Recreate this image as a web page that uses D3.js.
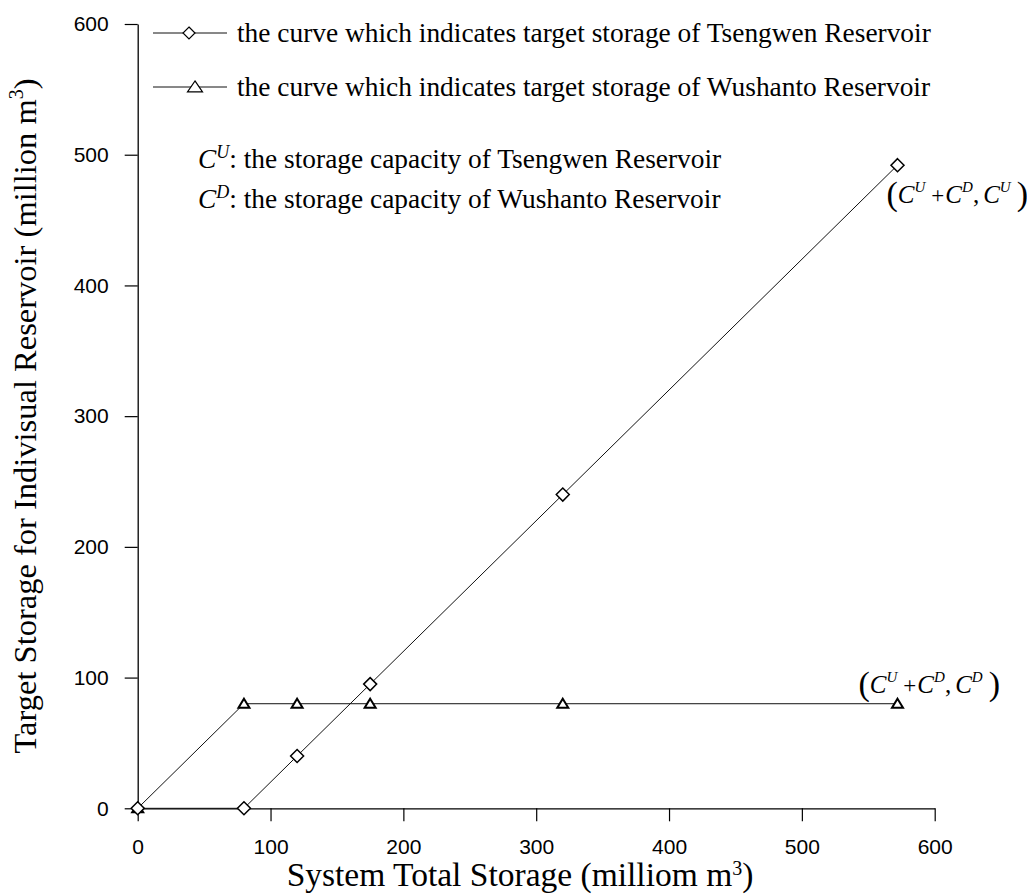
<!DOCTYPE html>
<html>
<head>
<meta charset="utf-8">
<script src="https://cdn.jsdelivr.net/npm/d3@7"></script>
<style>
  html, body { margin: 0; padding: 0; background: #fff; }
  svg { display: block; }
</style>
</head>
<body>
<svg id="chart" width="1027" height="894"></svg>
<script>
// ---- data ----
const totalStorage = [0, 80, 120, 175, 320, 572];
const tsengwenTarget = [0, 0, 40, 95, 240, 492];
const wushantoTarget = [0, 80, 80, 80, 80, 80];
const xTicks = [0, 100, 200, 300, 400, 500, 600];
const yTicks = [0, 100, 200, 300, 400, 500, 600];
const legendLabels = [
  "the curve which indicates target storage of Tsengwen Reservoir",
  "the curve which indicates target storage of Wushanto Reservoir"
];
const noteLabels = [
  { sup: "U", text: ": the storage capacity of Tsengwen Reservoir" },
  { sup: "D", text: ": the storage capacity of Wushanto Reservoir" }
];

const svg = d3.select("#chart");
const x = d3.scaleLinear().domain([0, 600]).range([137.7, 934.7]);
const y = d3.scaleLinear().domain([0, 600]).range([808.3, 24]);

const serif = "'Liberation Serif', 'Times New Roman', serif";
const sans = "'Liberation Sans', Arial, sans-serif";

// ---- axes ----
const xAxis = svg.append("g")
  .attr("transform", `translate(0,${y(0)})`)
  .call(d3.axisBottom(x).tickValues(xTicks).tickSize(13).tickPadding(18).tickSizeOuter(0));
const yAxis = svg.append("g")
  .attr("transform", `translate(${x(0)},0)`)
  .call(d3.axisLeft(y).tickValues(yTicks).tickSize(13).tickPadding(16).tickSizeOuter(0));
[xAxis, yAxis].forEach(g => {
  g.selectAll("text").attr("font-family", sans).attr("font-size", 21).attr("fill", "#000");
  g.selectAll("line").attr("stroke", "#000").attr("stroke-width", 1.2);
  g.select(".domain").attr("stroke", "#000").attr("stroke-width", 1.3);
});

// ---- axis titles ----
const xt = svg.append("text")
  .attr("x", 520).attr("y", 886)
  .attr("text-anchor", "middle")
  .attr("font-family", serif).attr("font-size", 33.5).attr("fill", "#000");
xt.append("tspan").text("System Total Storage (milliom m");
xt.append("tspan").attr("font-size", 20).attr("dy", -11).text("3");
xt.append("tspan").attr("dy", 11).text(")");

const yt = svg.append("text")
  .attr("transform", "translate(36,416) rotate(-90)")
  .attr("text-anchor", "middle")
  .attr("font-family", serif).attr("font-size", 32.5).attr("fill", "#000");
yt.append("tspan").text("Target Storage for Indivisual Reservoir (million m");
yt.append("tspan").attr("font-size", 20).attr("dy", -13).text("3");
yt.append("tspan").attr("dy", 13).text(")");

// ---- lines ----
const line = d3.line().x(d => x(d[0])).y(d => y(d[1]));
const tsData = totalStorage.map((v, i) => [v, tsengwenTarget[i]]);
const wuData = totalStorage.map((v, i) => [v, wushantoTarget[i]]);

svg.append("path").datum(wuData).attr("d", line)
  .attr("fill", "none").attr("stroke", "#111").attr("stroke-width", 1);
svg.append("path").datum(tsData).attr("d", line)
  .attr("fill", "none").attr("stroke", "#111").attr("stroke-width", 1);

const diamond = (s) => `M0,${-s}L${s},0L0,${s}L${-s},0Z`;
const triangle = (w, h) => `M0,${-h * 0.55}L${w / 2},${h * 0.45}L${-w / 2},${h * 0.45}Z`;

svg.append("g").selectAll("path").data(wuData).join("path")
  .attr("transform", d => `translate(${x(d[0])},${y(d[1])})`)
  .attr("d", triangle(11, 9))
  .attr("fill", "#fff").attr("stroke", "#000").attr("stroke-width", 2);
svg.append("g").selectAll("path").data(tsData).join("path")
  .attr("transform", d => `translate(${x(d[0])},${y(d[1])})`)
  .attr("d", diamond(6.5))
  .attr("fill", "#fff").attr("stroke", "#000").attr("stroke-width", 1.5);

// ---- legend ----
const legY = [33, 87];
const legMarkers = [diamond(6), triangle(15, 11)];
const legMarkerX = [189, 195];
legendLabels.forEach((lab, i) => {
  const g = svg.append("g");
  g.append("line").attr("x1", 153).attr("x2", 227).attr("y1", legY[i]).attr("y2", legY[i])
    .attr("stroke", "#111").attr("stroke-width", 1);
  g.append("path").attr("transform", `translate(${legMarkerX[i]},${legY[i]})`).attr("d", legMarkers[i])
    .attr("fill", "#fff").attr("stroke", "#000").attr("stroke-width", 1.2);
  g.append("text").attr("x", 237).attr("y", legY[i] + 9)
    .attr("font-family", serif).attr("font-size", 27.4).attr("fill", "#000").text(lab);
});

// ---- notes ----
const noteY = [168, 208];
noteLabels.forEach((n, i) => {
  const t = svg.append("text").attr("x", 198).attr("y", noteY[i])
    .attr("font-family", serif).attr("font-size", 27.4).attr("fill", "#000");
  t.append("tspan").attr("font-style", "italic").text("C");
  t.append("tspan").attr("font-style", "italic").attr("font-size", 18).attr("dy", -10).text(n.sup);
  t.append("tspan").attr("dy", 10).text(n.text);
});

// ---- point annotations ----
function annot(px, py, lastSup) {
  const t = svg.append("text").attr("x", px).attr("y", py)
    .attr("font-family", serif).attr("font-size", 25).attr("fill", "#000");
  t.append("tspan").attr("font-size", 34).attr("dy", 2).text("(");
  t.append("tspan").attr("font-style", "italic").attr("dy", -2).text("C");
  t.append("tspan").attr("font-style", "italic").attr("font-size", 15).attr("dy", -11).text("U");
  t.append("tspan").attr("dx", 6).attr("dy", 11).attr("font-size", 23).text("+");
  t.append("tspan").attr("dx", 1).attr("font-style", "italic").text("C");
  t.append("tspan").attr("font-style", "italic").attr("font-size", 15).attr("dy", -11).text("D");
  t.append("tspan").attr("dy", 11).text(",");
  t.append("tspan").attr("dx", 4).attr("font-style", "italic").text("C");
  t.append("tspan").attr("font-style", "italic").attr("font-size", 15).attr("dy", -11).text(lastSup);
  t.append("tspan").attr("dx", 6).attr("font-size", 34).attr("dy", 13).text(")");
}
const lastI = totalStorage.length - 1;
annot(x(totalStorage[lastI]) - 11, y(tsengwenTarget[lastI]) + 38, "U");
annot(x(totalStorage[lastI]) - 39, y(wushantoTarget[lastI]) - 11, "D");
</script>
</body>
</html>
